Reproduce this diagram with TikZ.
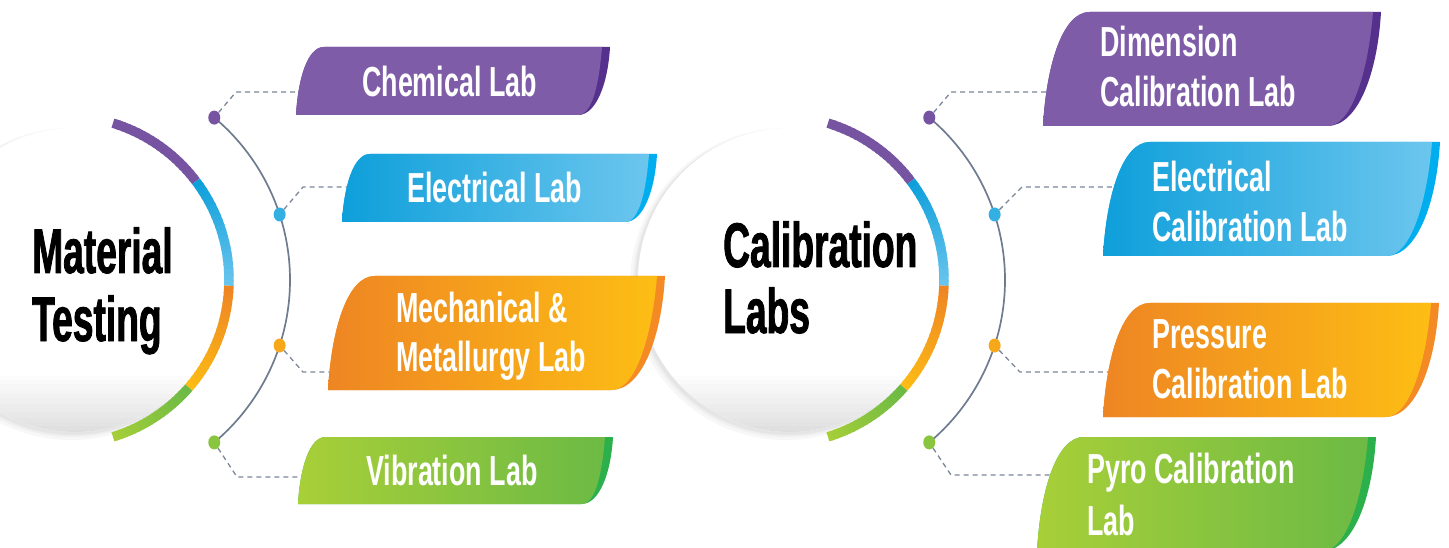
\documentclass[tikz,border=0pt]{standalone}
\usepackage{fontspec}
\usetikzlibrary{shapes.geometric}
\newfontfamily\headfont[FakeStretch=0.59,FakeBold=1.3]{Liberation Sans Bold}
\newfontfamily\labfont[FakeStretch=0.64]{Liberation Sans Bold}
\definecolor{cPur}{HTML}{7E5CA8}
\definecolor{cPurD}{HTML}{55308C}
\definecolor{cPurA}{HTML}{7654A2}
\definecolor{cBlu1}{HTML}{0E9FDA}
\definecolor{cBlu2}{HTML}{6CC6EE}
\definecolor{cBluD}{HTML}{00AEEF}
\definecolor{cOra1}{HTML}{EE8523}
\definecolor{cOra2}{HTML}{FDBE14}
\definecolor{cOraD}{HTML}{F48A24}
\definecolor{cGre1}{HTML}{A8CF38}
\definecolor{cGre2}{HTML}{6CBA45}
\definecolor{cGreD}{HTML}{2BB04B}
\definecolor{cLine}{HTML}{6F7B8F}
\definecolor{cDash}{HTML}{7C879A}

% gradient arc: #1 centre, #2 radius, #3 start angle, #4 end angle, #5 start colour, #6 end colour
\newcommand\gradarc[6]{%
  \foreach \i in {0,...,19}{%
    \pgfmathsetmacro\aa{#3+(#4-#3)*\i/20}%
    \pgfmathsetmacro\ab{#3+(#4-#3)*(\i+1)/20+(\i<19)*(#4-#3)/60}%
    \pgfmathtruncatemacro\pc{100-5*\i}%
    \draw[line width=9.5, color=#5!\pc!#6] (#1) ++(\aa:#2) arc[start angle=\aa, end angle=\ab, radius=#2];
  }}

% tab: #1 xl, #2 xr, #3 ytop, #4 ybot, #5 left colour, #6 right colour, #7 dark colour
\newcommand\labtab[7]{%
  \pgfmathsetmacro\hh{#3-#4}%
  \fill[#7] (#1,#4) .. controls ({#1+0.03*\hh},{#4+0.53*\hh}) and ({#1+0.17*\hh},#3) .. ({#1+0.41*\hh},#3)
     -- (#2,#3) .. controls ({#2-0.03*\hh},{#3-0.53*\hh}) and ({#2-0.2*\hh},#4) .. ({#2-0.47*\hh},#4) -- cycle;
  \shade[left color=#5, right color=#6] (#1,#4) .. controls ({#1+0.03*\hh},{#4+0.53*\hh}) and ({#1+0.17*\hh},#3) .. ({#1+0.41*\hh},#3)
     -- ({#2-8},#3) .. controls ({#2-8-0.04*\hh},{#3-0.5*\hh}) and ({#2-0.25*\hh},#4) .. ({#2-0.47*\hh},#4) -- cycle;
}

% cluster: #1 x shift, #2 name prefix, #3 first line, #4 second line
\newcommand\cluster[4]{%
  \begin{scope}[xshift=#1]
    \coordinate (#2cc) at (75,267);
    \coordinate (#2ca) at (65,267);
    \coordinate (#2ct) at (78,267);
    \fill[black, opacity=0.03] (#2cc) ++(-4,-4) circle[radius=156];
    \fill[black, opacity=0.03] (#2cc) ++(-3,-3) circle[radius=154];
    \fill[black, opacity=0.04] (#2cc) ++(-2,-2) circle[radius=153];
    \begin{scope}
      \clip (#2cc) circle[radius=152];
      \fill[white] (#2cc) circle[radius=152];
      \foreach \j in {0,...,29}{%
        \pgfmathtruncatemacro\gv{13-13*\j/30}%
        \fill[black!\gv] (#2cc) ++(-160,{-152+2*\j}) rectangle ++(320,2.4);
      }
    \end{scope}
    \gradarc{#2ca}{164}{73}{37}{cPurA}{cPurA}
    \gradarc{#2ca}{164}{37}{-2}{cBlu1}{cBlu2}
    \gradarc{#2ca}{164}{-2}{-41}{cOra1}{cOra2}
    \gradarc{#2ca}{164}{-41}{-73}{cGre2}{cGre1}
    \draw[cLine, line width=1.7] (#2ct) ++(50:212) arc[start angle=50, end angle=-50, radius=212];
    \path (#2ct) ++(50:212) node[dotmark, fill=cPurA] (#2d1) {};
    \path (#2ct) ++(18:212) node[dotmark, fill=cBlu1!60!cBlu2] (#2d2) {};
    \path (#2ct) ++(-18:212) node[dotmark, fill=cOra1!40!cOra2] (#2d3) {};
    \path (#2ct) ++(-50:212) node[dotmark, fill=cGre1!50!cGre2] (#2d4) {};
    \node[head, anchor=base west] (#2h1) at (32,274) {#3};
    \node[head, anchor=base west] (#2h2) at (32,206) {#4};
  \end{scope}}

\begin{document}
\begin{tikzpicture}[x=1pt, y=1pt,
  dotmark/.style={ellipse, minimum width=12, minimum height=14, inner sep=0pt, draw=none},
  dashline/.style={cDash, line width=1.3, dash pattern=on 5pt off 4pt},
  lab/.style={inner sep=0pt, text=white, font=\labfont\fontsize{42}{50}\selectfont, anchor=base west},
  head/.style={inner sep=0pt, text=black, font=\headfont\fontsize{63}{70}\selectfont}]
\useasboundingbox (0,0) rectangle (1449,547);
\fill[white] (0,0) rectangle (1449,547);
\clip (0,0) rectangle (1449,547);

\cluster{0}{L}{Material}{Testing}
\cluster{715}{R}{}{}
\node[head, anchor=base west] (Rh1) at (723,280) {Calibration};
\node[head, anchor=base west] (Rh2) at (723,214) {Labs};

% connector bends and ends
\coordinate (Lb1) at (236,455); \coordinate (Le1) at (301,455);
\coordinate (Lb2) at (303,360); \coordinate (Le2) at (347,360);
\coordinate (Lb3) at (303,175); \coordinate (Le3) at (335,175);
\coordinate (Lb4) at (237,70);  \coordinate (Le4) at (303,70);
\coordinate (Rb1) at (951,455); \coordinate (Re1) at (1049,455);
\coordinate (Rb2) at (1022,360); \coordinate (Re2) at (1119,360);
\coordinate (Rb3) at (1020,175); \coordinate (Re3) at (1111,175);
\coordinate (Rb4) at (951,72);  \coordinate (Re4) at (1053,72);
\foreach \s in {L,R}{
  \foreach \k in {1,2,3,4}{
    \draw[dashline] (\s d\k) -- (\s b\k) -- (\s e\k);
  }}

% tabs
\labtab{296}{610}{500}{432}{cPur}{cPur}{cPurD}
\labtab{342}{657}{393}{325}{cBlu1}{cBlu2}{cBluD}
\labtab{328}{665}{271}{157}{cOra1}{cOra2}{cOraD}
\labtab{298}{613}{110}{43}{cGre1}{cGre2}{cGreD}
\labtab{1043}{1381}{535}{421}{cPur}{cPur}{cPurD}
\labtab{1103}{1440}{405}{291}{cBlu1}{cBlu2}{cBluD}
\labtab{1103}{1439}{244}{130}{cOra1}{cOra2}{cOraD}
\labtab{1037}{1376}{110}{-4}{cGre1}{cGre2}{cGreD}

% labels
\node[lab] (t1) at (362,450) {Chemical Lab};
\node[lab] (t2) at (407,344) {Electrical Lab};
\node[lab] (t3a) at (396,225) {Mechanical \&};
\node[lab] (t3b) at (396,176) {Metallurgy Lab};
\node[lab] (t4) at (366,62) {Vibration Lab};
\node[lab] (t5a) at (1100,490) {Dimension};
\node[lab] (t5b) at (1100,440) {Calibration Lab};
\node[lab] (t6a) at (1152,355) {Electrical};
\node[lab] (t6b) at (1152,305) {Calibration Lab};
\node[lab] (t7a) at (1152,199) {Pressure};
\node[lab] (t7b) at (1152,149) {Calibration Lab};
\node[lab] (t8a) at (1087,64) {Pyro Calibration};
\node[lab] (t8b) at (1087,12) {Lab};
\end{tikzpicture}
\end{document}
